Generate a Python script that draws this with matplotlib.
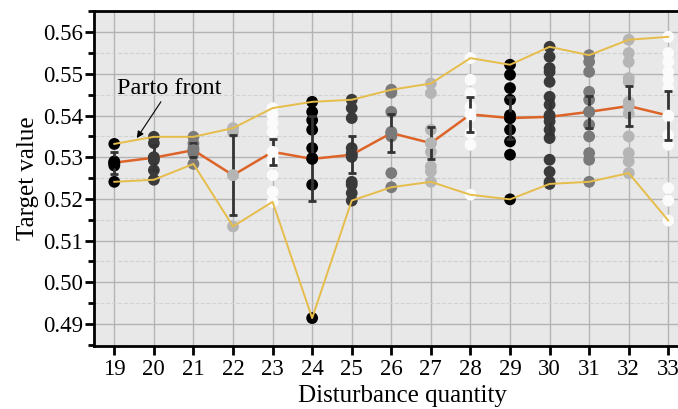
import numpy as np
import matplotlib.pyplot as plt
from matplotlib.ticker import MultipleLocator, FormatStrFormatter

plt.rcParams['font.family'] = ['Liberation Serif', 'DejaVu Serif']

# ---- data ----
quantity = [19, 20, 21, 22, 23, 24, 25, 26, 27, 28, 29, 30, 31, 32, 33]

samples = [
    [0.5332, 0.5290, 0.5285, 0.5280, 0.5241],
    [0.5349, 0.5334, 0.5300, 0.5293, 0.5269, 0.5246],
    [0.5349, 0.5333, 0.5322, 0.5310, 0.5284],
    [0.5370, 0.5360, 0.5257, 0.5134],
    [0.5418, 0.5401, 0.5382, 0.5361, 0.5313, 0.5301, 0.5287, 0.5257, 0.5217, 0.5193],
    [0.5433, 0.5409, 0.5389, 0.5366, 0.5322, 0.5298, 0.5234, 0.4914],
    [0.5438, 0.5418, 0.5394, 0.5322, 0.5310, 0.5301, 0.5241, 0.5234, 0.5214, 0.5196],
    [0.5462, 0.5455, 0.5409, 0.5361, 0.5350, 0.5262, 0.5228],
    [0.5477, 0.5454, 0.5366, 0.5334, 0.5313, 0.5278, 0.5266, 0.5241],
    [0.5538, 0.5486, 0.5454, 0.5421, 0.5397, 0.5358, 0.5330, 0.5210],
    [0.5522, 0.5498, 0.5466, 0.5438, 0.5401, 0.5394, 0.5366, 0.5338, 0.5306, 0.5199],
    [0.5565, 0.5541, 0.5514, 0.5505, 0.5481, 0.5445, 0.5426, 0.5401, 0.5386, 0.5366,
     0.5346, 0.5294, 0.5265, 0.5241, 0.5236],
    [0.5545, 0.5529, 0.5505, 0.5457, 0.5438, 0.5409, 0.5378, 0.5350, 0.5310, 0.5294, 0.5241],
    [0.5582, 0.5550, 0.5529, 0.5490, 0.5481, 0.5433, 0.5421, 0.5405, 0.5350, 0.5310,
     0.5290, 0.5262],
    [0.5589, 0.5550, 0.5529, 0.5505, 0.5486, 0.5466, 0.5397, 0.5353, 0.5330, 0.5226,
     0.5196, 0.5148],
]

mean_value = [0.5287, 0.5299, 0.5317, 0.5257, 0.5313, 0.5296, 0.5306, 0.5358,
              0.5334, 0.5403, 0.5394, 0.5397, 0.5409, 0.5423, 0.5400]
err_value = [0.0026, 0.0030, 0.0017, 0.0096, 0.0032, 0.0102, 0.0044, 0.0046,
             0.0038, 0.0042, 0.0050, 0.0040, 0.0038, 0.0048, 0.0058]

shades = ['#000000', '#3a3a3a', '#7a7a7a', '#b5b5b5', '#fbfbfb']

upper = [max(s) for s in samples]
lower = [min(s) for s in samples]

fig = plt.figure(figsize=(6.78, 4.09), dpi=100)
ax = fig.add_axes([94 / 678, 1 - 346 / 409, 594.6 / 678, 335 / 409])
ax.set_facecolor('#e8e8e8')

for i, (q, s) in enumerate(zip(quantity, samples)):
    ax.scatter([q] * len(s), s, s=72, color=shades[i % 5], edgecolors='none', zorder=3)

ax.errorbar(quantity, mean_value, yerr=err_value, fmt='none', ecolor='#333333',
            elinewidth=2, capsize=3, capthick=2, zorder=4)
ax.plot(quantity, mean_value, color='#dd6428', lw=1.8, zorder=5)
for i, q in enumerate(quantity):
    ax.scatter([q], [mean_value[i]], s=72, color=shades[i % 5], edgecolors='none', zorder=5.5)
ax.plot(quantity, upper, color='#e6bd4a', lw=1.4, zorder=6)
ax.plot(quantity, lower, color='#e6bd4a', lw=1.4, zorder=6)

ax.annotate('Parto front', xy=(19.57, 0.5346), xytext=(19.08, 0.5465),
            fontsize=17.5, va='center', ha='left',
            arrowprops=dict(arrowstyle='-|>', color='black', lw=0.8, mutation_scale=10,
                            shrinkA=0, shrinkB=0),
            zorder=7)

ax.set_xlim(18.487, 33.513)
ax.set_ylim(0.4847, 0.5651)
ax.set_xticks(quantity)
ax.yaxis.set_major_locator(MultipleLocator(0.01))
ax.yaxis.set_minor_locator(MultipleLocator(0.005))
ax.yaxis.set_major_formatter(FormatStrFormatter('%.2f'))

ax.grid(which='major', color='#b4b4b4', lw=1, ls='-')
ax.grid(which='minor', axis='y', color='#d2d2d2', lw=0.8, ls='--')
ax.set_axisbelow(True)

for side in ['left', 'bottom', 'top']:
    ax.spines[side].set_linewidth(2)
ax.spines['right'].set_visible(False)
ax.tick_params(axis='x', which='major', direction='out', length=6.5, width=2,
               labelsize=16.5, pad=3)
ax.tick_params(axis='y', which='major', direction='out', length=6.5, width=2,
               labelsize=16.5, pad=1.5)
ax.tick_params(axis='y', which='minor', direction='out', length=4, width=2)

ax.set_xlabel('Disturbance quantity', fontsize=18)
ax.xaxis.set_label_coords(0.518, -0.115)
ax.set_ylabel('Target value', fontsize=18, labelpad=3)

fig.savefig('out.png', dpi=100)
